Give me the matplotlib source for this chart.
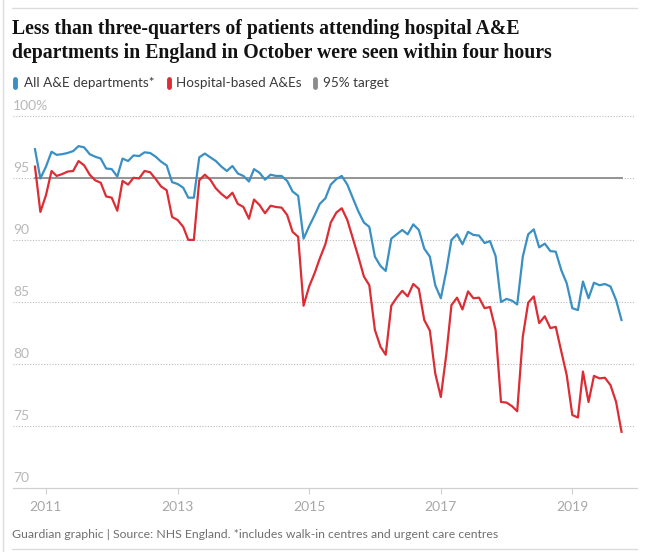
import pandas as pd
import matplotlib.pyplot as plt
from matplotlib.lines import Line2D

# A&E 4-hour performance, monthly Nov 2010 - Oct 2019 (%)
allAE = [97.3, 94.95, 95.9, 97.1, 96.85, 96.9, 97.0, 97.15, 97.55, 97.45,
         96.9, 96.7, 96.55, 95.75, 95.7, 95.1, 96.55, 96.35, 96.8, 96.75,
         97.05, 97.0, 96.7, 96.3, 96.0, 94.65, 94.5, 94.2, 93.4, 93.4,
         96.65, 96.95, 96.65, 96.35, 95.9, 95.55, 95.95, 95.35, 95.15, 94.7,
         95.7, 95.4, 94.85, 95.25, 95.15, 95.15, 94.75, 93.9, 93.55, 90.1,
         91.1, 92.0, 92.9, 93.35, 94.45, 94.9, 95.15, 94.45, 93.35, 92.3,
         91.4, 91.05, 88.65, 87.9, 87.5, 90.1, 90.45, 90.8, 90.45, 91.25,
         90.8, 89.3, 88.65, 86.35, 85.3, 87.55, 90.0, 90.45, 89.65, 90.65,
         90.4, 90.35, 89.75, 89.9, 88.7, 85.0, 85.25, 85.1, 84.8, 88.65,
         90.45, 90.85, 89.4, 89.7, 89.1, 89.05, 87.55, 86.5, 84.5, 84.35,
         86.65, 85.3, 86.55, 86.35, 86.45, 86.25, 85.15, 83.55]
hospitalAE = [95.9, 92.25, 93.6, 95.55, 95.15, 95.3, 95.5, 95.55, 96.35, 96.0,
              95.25, 94.8, 94.6, 93.5, 93.4, 92.35, 94.75, 94.45, 95.0, 94.95,
              95.55, 95.45, 94.9, 94.3, 94.0, 91.85, 91.6, 91.05, 90.0, 90.0,
              94.8, 95.25, 94.85, 94.15, 93.7, 93.35, 93.8, 92.9, 92.65, 91.7,
              93.25, 92.8, 92.15, 92.75, 92.65, 92.6, 92.0, 90.65, 90.25, 84.7,
              86.25, 87.35, 88.5, 89.65, 91.4, 92.2, 92.55, 91.6, 90.1, 88.65,
              87.05, 86.35, 82.75, 81.4, 80.75, 84.7, 85.35, 85.9, 85.45, 86.45,
              86.05, 83.55, 82.7, 79.25, 77.35, 80.85, 84.75, 85.35, 84.4, 85.85,
              85.3, 85.35, 84.5, 84.6, 82.75, 76.95, 76.9, 76.6, 76.2, 82.2,
              84.95, 85.45, 83.3, 83.85, 82.9, 83.0, 81.0, 79.1, 75.9, 75.7,
              79.4, 76.95, 79.05, 78.85, 78.9, 78.3, 76.95, 74.55]
months = pd.date_range('2010-11-01', periods=len(allAE), freq='MS')
target = 95
yTicks = [70, 75, 80, 85, 90, 95, 100]
yLabels = ['70', '75', '80', '85', '90', '95', '100%']
xYears = [2011, 2013, 2015, 2017, 2019]

blue = '#3a8fc3'
red = '#dc2d35'
grey = '#8c8c8c'
sans = 'Lato'

fig = plt.figure(figsize=(6.6, 5.52), dpi=100)
W, H = 660, 552

def fx(px):
    return px / W

def fy(py):
    return 1 - py / H

ax = fig.add_axes([fx(13), fy(488.3), fx(624), (488.3 - 115.7) / H])

ax.plot(months, allAE, color=blue, lw=1.6, zorder=3)
ax.plot(months, hospitalAE, color=red, lw=1.6, zorder=3)
ax.plot([months[0], months[-1]], [target, target], color=grey, lw=1.3, zorder=2)

ax.set_ylim(70, 100)
ax.set_xlim(pd.Timestamp('2010-07-02'), pd.Timestamp('2019-12-26'))
for s in ['top', 'right', 'left']:
    ax.spines[s].set_visible(False)
ax.spines['bottom'].set_color('#d0d0d0')
ax.spines['bottom'].set_linewidth(0.9)

ax.set_yticks(yTicks)
ax.set_yticklabels([])
ax.tick_params(axis='y', length=0)
for v, lab in zip(yTicks, yLabels):
    if v > 70:
        ax.plot([pd.Timestamp('2010-07-02'), pd.Timestamp('2019-12-10')], [v, v],
                color='#bbbbbb', lw=0.8, ls=(0, (1, 1.5)), zorder=1)
    ax.annotate(lab, xy=(0, v), xycoords=('axes fraction', 'data'),
                xytext=(0, 3), textcoords='offset points',
                ha='left', va='bottom', fontsize=10, color='#b8b8b8',
                family=sans)

ax.set_xticks([pd.Timestamp(f'{y}-01-01') for y in xYears])
ax.set_xticklabels([str(y) for y in xYears], fontsize=10, color='#a8a8a8',
                   family=sans)
ax.tick_params(axis='x', length=4, color='#d0d0d0', pad=5)

# title
fig.text(fx(12), fy(29), 'Less than three-quarters of patients attending hospital A&E',
         fontsize=14.2, fontweight='bold', family='Liberation Serif',
         color='#121212', va='center', ha='left')
fig.text(fx(12), fy(53), 'departments in England in October were seen within four hours',
         fontsize=14.2, fontweight='bold', family='Liberation Serif',
         color='#121212', va='center', ha='left')

# legend
legendItems = [(15.5, 23.5, blue, 'All A&E departments*'),
               (168.5, 176, red, 'Hospital-based A&Es'),
               (315, 323, grey, '95% target')]
for bx, tx, c, lab in legendItems:
    fig.add_artist(Line2D([fx(bx), fx(bx)], [fy(79), fy(87)], color=c, lw=3.5,
                          solid_capstyle='round', transform=fig.transFigure))
    fig.text(fx(tx), fy(83), lab, fontsize=9.7, color='#3a3a3a', family=sans,
             va='center', ha='left')

# footer
fig.text(fx(12), fy(535),
         'Guardian graphic | Source: NHS England. *includes walk-in centres and urgent care centres',
         fontsize=8.8, color='#707070', family=sans, va='center', ha='left')

# frame lines
fig.add_artist(Line2D([fx(12), fx(637)], [fy(8), fy(8)], color='#dcdcdc', lw=1,
                      transform=fig.transFigure))
fig.add_artist(Line2D([fx(12), fx(637)], [fy(549), fy(549)], color='#dcdcdc', lw=1,
                      transform=fig.transFigure))
fig.add_artist(Line2D([fx(2.5), fx(2.5)], [0, 1], color='#dcdcdc', lw=1,
                      transform=fig.transFigure))

fig.savefig('out.png', dpi=100)
